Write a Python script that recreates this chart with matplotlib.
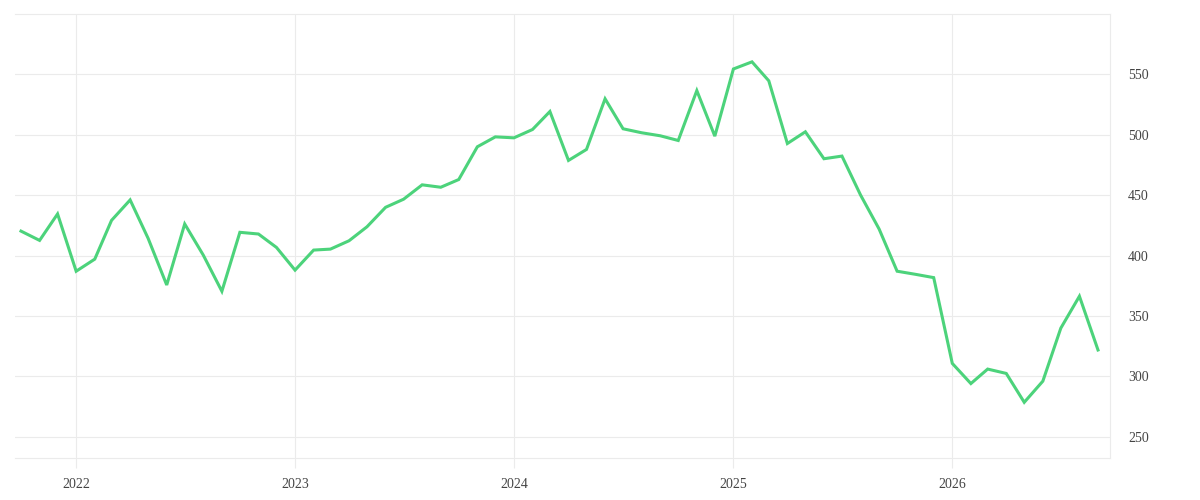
import matplotlib
matplotlib.use("Agg")
import matplotlib.pyplot as plt
import matplotlib.dates as mdates
import pandas as pd

# monthly values, Oct 2021 .. Sep 2026
months = pd.date_range("2021-10-01", "2026-09-01", freq="MS")
values = [420.3, 412.6, 434.5, 387.1, 397.1, 429.2, 446.1, 414.3, 375.7, 426.2,
          400.4, 370.5, 419.3, 417.9, 406.8, 388.0, 404.6, 405.4, 412.3, 423.9,
          440.0, 446.7, 458.6, 456.6, 463.0, 490.1, 498.3, 497.5, 504.4, 519.3,
          478.8, 487.9, 529.8, 505.0, 501.7, 499.2, 495.3, 536.6, 498.9, 554.5,
          560.4, 544.7, 492.8, 502.5, 480.2, 482.4, 450.2, 422.0, 387.1, 384.5,
          381.8, 310.8, 294.1, 306.1, 302.5, 278.6, 296.1, 340.0, 366.4, 321.9]
yticks = [250, 300, 350, 400, 450, 500, 550]

grid_c = "#ebebeb"
text_c = "#444444"

fig = plt.figure(figsize=(12, 5), dpi=100)
ax = fig.add_axes([15/1200, 42/500, 1095/1200, 444/500])

ax.plot(months, values, color="#4cd37b", lw=2.2, solid_joinstyle="miter", zorder=3)

ax.set_xlim(pd.Timestamp("2021-09-21"), pd.Timestamp("2026-09-21"))
ax.set_ylim(232.5, 600)

ax.xaxis.set_major_locator(mdates.YearLocator())
ax.xaxis.set_major_formatter(mdates.DateFormatter("%Y"))
ax.set_yticks(yticks)

ax.yaxis.tick_right()
ax.grid(True, color=grid_c, lw=0.8)
ax.set_axisbelow(True)

for s in ["top", "bottom", "right"]:
    ax.spines[s].set_color(grid_c)
    ax.spines[s].set_linewidth(0.8)
ax.spines["left"].set_visible(False)

ax.tick_params(axis="x", length=7.5, width=0.8, color=grid_c, pad=7,
               labelsize=10, labelcolor=text_c)
ax.tick_params(axis="y", length=0, pad=13, labelsize=10, labelcolor=text_c)
for lbl in ax.get_xticklabels() + ax.get_yticklabels():
    lbl.set_fontfamily("Liberation Serif")

fig.savefig("out.png", dpi=100, facecolor="white")
